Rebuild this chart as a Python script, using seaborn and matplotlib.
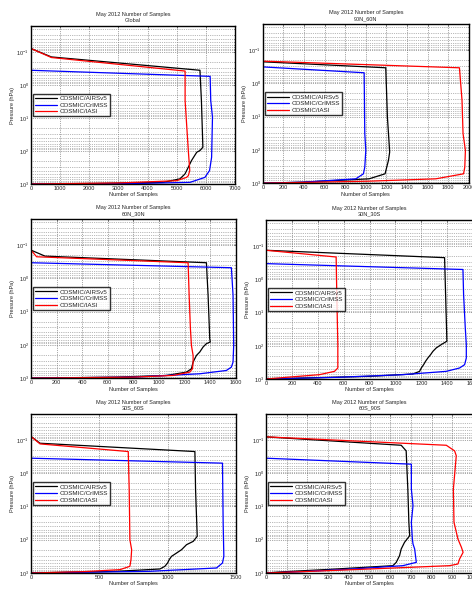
import numpy as np
import pandas as pd
import matplotlib
matplotlib.use("Agg")
import matplotlib.pyplot as plt
import seaborn as sns
from matplotlib.ticker import LogLocator, NullFormatter, MultipleLocator

sns.set_style("white")
plt.rcParams['font.family'] = ['Liberation Sans', 'DejaVu Sans']
plt.rcParams['mathtext.fontset'] = 'custom'
plt.rcParams['mathtext.rm'] = 'Liberation Sans'

# ---- data: samples vs pressure (hPa) per region ----
regions = ['Global', '90N_60N', '60N_30N', '30N_30S', '30S_60S', '60S_90S']
series_names = ['COSMIC/AIRSv5', 'COSMIC/CrIMSS', 'COSMIC/IASI']
x_max = [7000, 2000, 1600, 1600, 1500, 1000]
x_step = [1000, 200, 200, 200, 500, 100]
p_top = 0.0166
p_bot = 1000

# Global
glob_airs_n = [0, 0, 700, 5800, 5850, 5900, 5800, 5690, 5510, 5400, 5285, 5110, 4540, 2400, 0]
glob_airs_p = [p_top, 0.079, 0.142, 0.36, 3, 77, 97, 109, 195, 310, 497, 700, 890, 960, 1000]
glob_crimss_n = [0, 0, 6150, 6170, 6230, 6200, 6130, 5970, 5460, 3500, 0]
glob_crimss_p = [p_top, 0.36, 0.55, 3, 9.4, 155, 390, 630, 890, 970, 1000]
glob_iasi_n = [0, 0, 700, 5290, 5290, 5400, 5450, 5400, 5340, 5000, 3000, 0]
glob_iasi_p = [p_top, 0.079, 0.148, 0.38, 3, 97, 390, 560, 630, 795, 930, 1000]

# 90N_60N
r1_airs_n = [0, 0, 1194, 1210, 1232, 1220, 1187, 1032, 387, 0]
r1_airs_p = [p_top, 0.225, 0.34, 10.2, 116, 208, 523, 740, 933, 1000]
r1_crimss_n = [0, 0, 984, 990, 1000, 990, 977, 903, 387, 0]
r1_crimss_p = [p_top, 0.32, 0.48, 32, 104, 330, 523, 740, 933, 1000]
r1_iasi_n = [0, 0, 1910, 1935, 1945, 1968, 1962, 1950, 1680, 1030, 0]
r1_iasi_p = [p_top, 0.215, 0.34, 3.2, 32, 104, 330, 523, 740, 871, 1000]

# 60N_30N
r2_airs_n = [0, 0, 109, 1370, 1383, 1396, 1400, 1370, 1344, 1318, 1292, 1279, 1266, 1253, 1214, 1058, 668, 0]
r2_airs_p = [p_top, 0.142, 0.215, 0.34, 3.2, 65, 82, 92, 116, 164, 208, 261, 330, 523, 659, 830, 933, 1000]
r2_crimss_n = [0, 0, 1565, 1578, 1583, 1578, 1565, 1526, 1318, 798, 0]
r2_crimss_p = [p_top, 0.34, 0.48, 3.2, 104, 330, 466, 588, 740, 933, 1000]
r2_iasi_n = [0, 0, 44, 1227, 1235, 1245, 1253, 1266, 1266, 1261, 1240, 1110, 798, 0]
r2_iasi_p = [p_top, 0.142, 0.225, 0.34, 3.2, 32, 104, 208, 330, 523, 659, 830, 933, 1000]

# 30N_30S
r3_airs_n = [0, 0, 1380, 1388, 1398, 1355, 1316, 1290, 1272, 1251, 1233, 1218, 1200, 1187, 1135, 800, 0]
r3_airs_p = [p_top, 0.135, 0.225, 2.9, 73, 92, 116, 147, 185, 233, 293, 370, 466, 588, 706, 830, 1000]
r3_crimss_n = [0, 0, 1522, 1527, 1540, 1548, 1548, 1535, 1496, 1393, 1058, 542, 0]
r3_crimss_p = [p_top, 0.34, 0.51, 2.9, 29, 92, 233, 370, 466, 588, 740, 890, 1000]
r3_iasi_n = [0, 0, 542, 547, 555, 555, 529, 413, 155, 0]
r3_iasi_p = [p_top, 0.135, 0.215, 2.9, 92, 466, 588, 740, 890, 1000]

# 30S_60S
r4_airs_n = [0, 0, 66, 1200, 1205, 1217, 1188, 1139, 1102, 1066, 1029, 1012, 1000, 980, 944, 627, 0]
r4_airs_p = [p_top, 0.079, 0.126, 0.224, 3.16, 79, 112, 141, 200, 251, 316, 398, 501, 631, 759, 891, 1000]
r4_crimss_n = [0, 0, 1402, 1407, 1412, 1402, 1358, 871, 0]
r4_crimss_p = [p_top, 0.355, 0.5, 31.6, 316, 501, 708, 891, 1000]
r4_iasi_n = [0, 0, 66, 712, 719, 724, 737, 732, 724, 651, 383, 0]
r4_iasi_p = [p_top, 0.079, 0.132, 0.224, 3.16, 100, 200, 398, 631, 794, 912, 1000]

# 60S_90S
r5_airs_n = [0, 0, 653, 677, 685, 690, 694, 669, 653, 645, 629, 613, 339, 97, 0]
r5_airs_p = [p_top, 0.081, 0.145, 0.214, 3.0, 30, 76, 120, 190, 302, 479, 603, 759, 912, 1000]
r5_crimss_n = [0, 0, 702, 702, 710, 702, 707, 710, 718, 726, 661, 419, 177, 0]
r5_crimss_p = [p_top, 0.355, 0.537, 3.0, 9.5, 30, 95, 135, 190, 479, 603, 759, 912, 1000]
r5_iasi_n = [0, 0, 871, 911, 919, 905, 908, 927, 944, 952, 935, 927, 887, 500, 177, 0]
r5_iasi_p = [p_top, 0.081, 0.145, 0.214, 0.30, 3.0, 30, 95, 170, 240, 380, 537, 603, 759, 912, 1000]

panel_data = [
    [(glob_airs_n, glob_airs_p), (glob_crimss_n, glob_crimss_p), (glob_iasi_n, glob_iasi_p)],
    [(r1_airs_n, r1_airs_p), (r1_crimss_n, r1_crimss_p), (r1_iasi_n, r1_iasi_p)],
    [(r2_airs_n, r2_airs_p), (r2_crimss_n, r2_crimss_p), (r2_iasi_n, r2_iasi_p)],
    [(r3_airs_n, r3_airs_p), (r3_crimss_n, r3_crimss_p), (r3_iasi_n, r3_iasi_p)],
    [(r4_airs_n, r4_airs_p), (r4_crimss_n, r4_crimss_p), (r4_iasi_n, r4_iasi_p)],
    [(r5_airs_n, r5_airs_p), (r5_crimss_n, r5_crimss_p), (r5_iasi_n, r5_iasi_p)],
]
colors = ['black', 'blue', 'red']

# axes rectangles in figure fraction (left, bottom, width, height)
rects = [
    [0.0657, 0.6876, 0.432, 0.268],
    [0.557, 0.689, 0.436, 0.27],
    [0.0657, 0.358, 0.434, 0.27],
    [0.5636, 0.3565, 0.4386, 0.27],
    [0.0657, 0.0272, 0.434, 0.27],
    [0.5636, 0.0272, 0.4386, 0.27],
]

fs = 4
fig = plt.figure(figsize=(4.72, 5.89), dpi=100)

for i, region in enumerate(regions):
    ax = fig.add_axes(rects[i])
    for j, name in enumerate(series_names):
        n, p = panel_data[i][j]
        df = pd.DataFrame({'samples': n, 'pressure': p})
        sns.lineplot(data=df, x='samples', y='pressure', sort=False, estimator=None,
                     color=colors[j], lw=0.9, label=name, ax=ax)
    ax.set_yscale('log')
    ax.set_ylim(p_bot, p_top)
    ax.set_xlim(0, x_max[i])
    ax.xaxis.set_major_locator(MultipleLocator(x_step[i]))
    ax.yaxis.set_major_locator(LogLocator(base=10, numticks=10))
    ax.yaxis.set_minor_locator(LogLocator(base=10, subs=np.arange(2, 10), numticks=50))
    ax.yaxis.set_minor_formatter(NullFormatter())
    ax.grid(True, which='major', axis='both', ls=':', lw=0.5, color='#555555')
    ax.grid(True, which='minor', axis='y', ls=':', lw=0.5, color='#777777')
    ax.tick_params(axis='both', which='both', direction='in', labelsize=fs,
                   top=True, right=True, length=1.5, width=0.4, pad=1.5)
    ax.tick_params(axis='y', which='minor', length=0.8)
    for s in ax.spines.values():
        s.set_linewidth(1.0)
        s.set_color('black')
    ax.set_xlabel('Number of Samples', fontsize=fs, labelpad=1)
    ax.set_ylabel('Pressure (hPa)', fontsize=fs, labelpad=1)
    ax.set_title('May 2012 Number of Samples\n' + region, fontsize=fs, pad=3, linespacing=1.3)
    leg = ax.legend(loc='center left', bbox_to_anchor=(0.01, 0.5), fontsize=4.5,
                    frameon=True, fancybox=False, handlelength=3.6, borderpad=0.3,
                    labelspacing=0.2, handletextpad=0.4, borderaxespad=0)
    leg.get_frame().set_edgecolor('black')
    leg.get_frame().set_linewidth(1.0)

fig.savefig('out.png', dpi=100)
